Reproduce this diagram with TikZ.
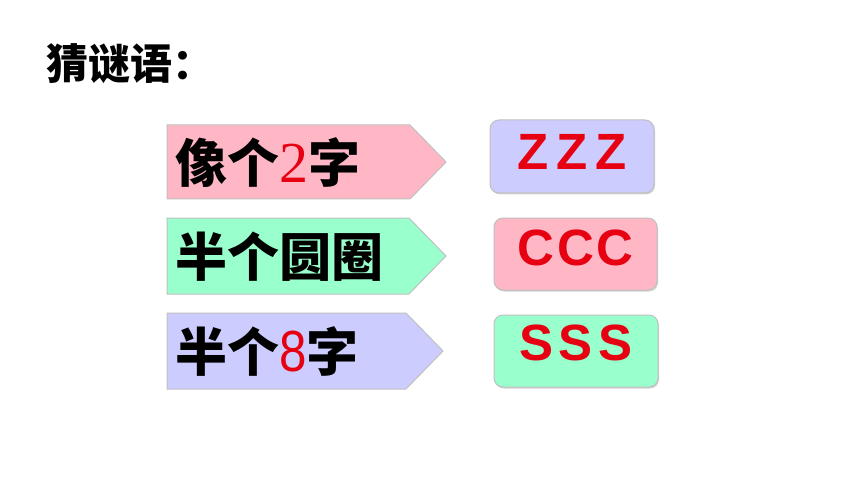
\documentclass[tikz,border=0pt]{standalone}
\usepackage{fontspec}
\usetikzlibrary{shadows}
\newfontfamily\cjk{Noto Sans CJK SC}
\newfontfamily\serifdigit{Liberation Serif}
\newfontfamily\sansdigit[FakeStretch=0.85]{Liberation Sans}
\newfontfamily\latin{Liberation Sans}
\definecolor{pinkfill}{HTML}{FFB7C5}
\definecolor{greenfill}{HTML}{99FFCC}
\definecolor{lavfill}{HTML}{CCCCFF}
\definecolor{redtext}{HTML}{E60012}
\definecolor{edgegray}{HTML}{C0C0C0}
\tikzset{
  arrowshape/.style={draw=edgegray, line width=1pt},
  answerbox/.style={draw=edgegray, line width=1pt, rounded corners=9pt,
    drop shadow={opacity=0.35, shadow xshift=1pt, shadow yshift=-1.5pt}},
  cluetext/.style={anchor=west, inner sep=0pt, font=\cjk\bfseries\fontsize{52}{52}\selectfont},
  answertext/.style={inner sep=0pt, text=redtext, font=\latin\bfseries\fontsize{51}{51}\selectfont},
  titletext/.style={anchor=west, inner sep=0pt, font=\cjk\bfseries\fontsize{42}{42}\selectfont}
}
\newcommand{\redtwo}{{\color{redtext}\serifdigit\mdseries\fontsize{58}{58}\selectfont 2}}
\newcommand{\redeight}{{\color{redtext}\sansdigit\mdseries\fontsize{58}{58}\selectfont 8}}
\begin{document}
\begin{tikzpicture}[x=1pt,y=-1pt]
\useasboundingbox (0,0) rectangle (860,484);
\fill[white] (0,0) rectangle (860,484);
% title
\node[titletext] (title) at (46,64) {猜谜语：};
% arrows
\draw[arrowshape, fill=pinkfill] (167,125) -- (410,125) -- (446,162) -- (410,199) -- (167,199) -- cycle;
\draw[arrowshape, fill=greenfill] (167,218) -- (409,218) -- (446,256) -- (409,294) -- (167,294) -- cycle;
\draw[arrowshape, fill=lavfill] (167,313) -- (406,313) -- (443,351) -- (406,389) -- (167,389) -- cycle;
\node[cluetext] (clue1) at (175,163) {像个\redtwo 字};
\node[cluetext] (clue2) at (175,257) {半个圆圈};
\node[cluetext] (clue3) at (175,352) {半个\redeight 字};
% answer boxes
\node[answerbox, fill=lavfill, minimum width=164pt, minimum height=73pt] (box1) at (572,156.5) {};
\node[answerbox, fill=pinkfill, minimum width=163pt, minimum height=72pt] (box2) at (575.5,254) {};
\node[answerbox, fill=greenfill, minimum width=164pt, minimum height=72pt] (box3) at (576,351) {};
\node[answertext] (ans1) at ([yshift=4.5pt]box1.center) {Z\hspace{8pt}Z\hspace{8pt}Z};
\node[answertext] (ans2) at ([yshift=6pt]box2.center) {C\hspace{3pt}C\hspace{3pt}C};
\node[answertext] (ans3) at ([yshift=8pt]box3.center) {S\hspace{5pt}S\hspace{5pt}S};
\end{tikzpicture}
\end{document}
